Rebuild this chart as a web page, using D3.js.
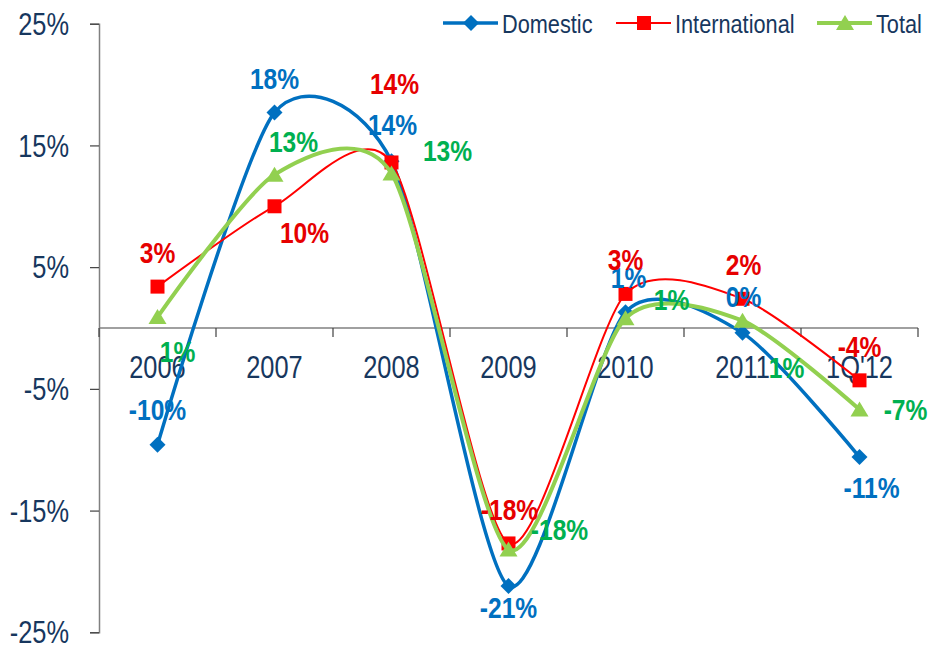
<!DOCTYPE html>
<html>
<head>
<meta charset="utf-8">
<script src="https://cdn.jsdelivr.net/npm/d3@7"></script>
<style>
  html, body { margin: 0; padding: 0; background: #fff; }
  svg { display: block; }
  text { font-family: "Liberation Sans", Arial, sans-serif; }
</style>
</head>
<body>
<svg id="chart" width="930" height="648"></svg>
<script>
// Year-over-year growth, %
const categories = ["2006", "2007", "2008", "2009", "2010", "2011", "1Q'12"];
const domestic = [-9.6, 17.7, 13.7, -21.2, 1.3, -0.4, -10.6];
const international = [3.4, 10.0, 13.6, -17.7, 2.8, 2.4, -4.3];
const total = [0.9, 12.6, 12.7, -18.2, 0.8, 0.6, -6.7];
const seriesNames = ["Domestic", "International", "Total"];
const yTicks = [-25, -15, -5, 5, 15, 25];

const svg = d3.select("#chart");
const navy = "#17375E";
const NARROW = 0.82; // horizontal squeeze for a condensed look

// place a text at (px, py), condensed horizontally
function placeText(sel, px, py) {
  return sel.attr("transform", (d, i) => {
    const tx = typeof px === "function" ? px(d, i) : px;
    const ty = typeof py === "function" ? py(d, i) : py;
    return `translate(${tx},${ty}) scale(${NARROW},1)`;
  });
}

const x = d3.scaleBand().domain(categories).range([99, 918]);
const y = d3.scaleLinear().domain([-25, 25]).range([632.3, 23.7]);

// y axis
const yAxis = d3.axisLeft(y).tickValues(yTicks).tickSize(9).tickFormat("");
const gy = svg.append("g").attr("transform", "translate(99,0)").call(yAxis);
gy.select(".domain").attr("stroke", "#808080").attr("stroke-width", 1.5);
gy.selectAll(".tick line").attr("stroke", "#404040").attr("stroke-width", 1.2);
placeText(
  svg.append("g").selectAll("text").data(yTicks).join("text")
    .attr("text-anchor", "end").attr("fill", navy).attr("font-size", 31)
    .attr("dy", "0.36em").text(d => d + "%"),
  69, d => y(d));

// zero line with ticks between categories
const gx = svg.append("g").attr("transform", `translate(0,${y(0)})`);
gx.append("line").attr("x1", 99).attr("x2", 918).attr("stroke", "#808080").attr("stroke-width", 1.5);
const bounds = categories.map(c => x(c)).concat([x.range()[1]]);
gx.selectAll("line.tk").data(bounds).join("line").attr("class", "tk")
  .attr("x1", d => d).attr("x2", d => d).attr("y1", 0).attr("y2", 9)
  .attr("stroke", "#404040").attr("stroke-width", 1.2);
placeText(
  gx.selectAll("text").data(categories).join("text")
    .attr("text-anchor", "middle").attr("fill", navy).attr("font-size", 31)
    .text(d => d),
  d => x(d) + x.bandwidth() / 2, 50);

const series = [
  { name: seriesNames[0], values: domestic, line: "#0070C0", label: "#0070C0", width: 3.5, marker: "diamond" },
  { name: seriesNames[1], values: international, line: "#FF0000", label: "#E60000", width: 2, marker: "square" },
  { name: seriesNames[2], values: total, line: "#92D050", label: "#00B050", width: 4, marker: "triangle" }
];

// label placement relative to each point: [dx, baseline dy]
const labelOffsets = {
  Domestic:      [[0, -25], [0, -24], [1, -26], [0, 32], [3, -24], [1, -26], [12, 41]],
  International: [[0, -24], [30, 37], [3, -68], [1, -23], [0, -24], [1, -24], [0, -23]],
  Total:         [[20, 45], [19, -23], [56, -12], [51, -10], [46, -8], [44, 57], [46, 10]]
};

const cx = c => x(c) + x.bandwidth() / 2;
const lineGen = d3.line()
  .x((d, i) => cx(categories[i]))
  .y(d => y(d))
  .curve(d3.curveCardinal.tension(0.25));

const markerPath = {
  diamond: "M0,-8L8,0L0,8L-8,0Z",
  square: "M-7,-7H7V7H-7Z",
  triangle: "M0,-8L9,7H-9Z"
};

series.forEach(s => {
  const g = svg.append("g");
  g.append("path").attr("d", lineGen(s.values)).attr("fill", "none")
    .attr("stroke", s.line).attr("stroke-width", s.width).attr("stroke-linejoin", "round");
  g.selectAll("path.mk").data(s.values).join("path").attr("class", "mk")
    .attr("transform", (d, i) => `translate(${cx(categories[i])},${y(d)})`)
    .attr("d", markerPath[s.marker]).attr("fill", s.line);
});

const fmt = v => { const r = Math.round(v); return (r === 0 ? 0 : r) + "%"; };
series.forEach(s => {
  const offs = labelOffsets[s.name];
  placeText(
    svg.append("g").selectAll("text").data(s.values).join("text")
      .attr("text-anchor", "middle").attr("font-weight", "bold")
      .attr("font-size", 30).attr("fill", s.label)
      .text(d => fmt(d)),
    (d, i) => cx(categories[i]) + offs[i][0],
    (d, i) => y(d) + offs[i][1]);
});

// legend
const legendX = [443, 616, 817];
const lg = svg.append("g");
series.forEach((s, i) => {
  const g = lg.append("g").attr("transform", `translate(${legendX[i]},23)`);
  g.append("line").attr("x1", 0).attr("x2", 55).attr("stroke", s.line).attr("stroke-width", s.width);
  g.append("path").attr("transform", "translate(28,0)").attr("d", markerPath[s.marker]).attr("fill", s.line);
  placeText(g.append("text").attr("fill", navy).attr("font-size", 26.5).text(s.name), 59, 10);
});
</script>
</body>
</html>
